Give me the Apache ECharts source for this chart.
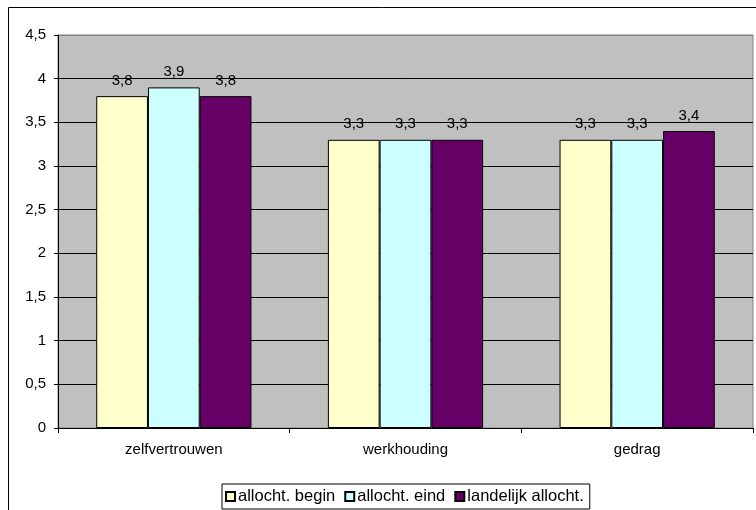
<!DOCTYPE html>
<html><head><meta charset="utf-8">
<script src="https://cdn.jsdelivr.net/npm/echarts@6/dist/echarts.min.js"></script>
<style>html,body{margin:0;padding:0;background:#fff}#c{width:756px;height:510px}</style>
</head><body><div id="c"></div>
<script>
const categories = ['zelfvertrouwen', 'werkhouding', 'gedrag'];
const allochtBegin = [3.8, 3.3, 3.3];
const allochtEind = [3.9, 3.3, 3.3];
const landelijkAllocht = [3.8, 3.3, 3.4];
const seriesNames = ['allocht. begin', 'allocht. eind', 'landelijk allocht.'];
const colors = ['#FFFFCC', '#CCFFFF', '#660066'];
const font = 'Arial, "Liberation Sans", sans-serif';
const comma = v => String(v).replace('.', ',');

const chart = echarts.init(document.getElementById('c'), null, {renderer: 'canvas'});
const mk = (name, data, color) => ({
  name, type: 'bar', data, barGap: '0%', barCategoryGap: '33%',
  itemStyle: {color, borderColor: '#000', borderWidth: 1},
  label: {show: true, position: 'top', distance: 8, color: '#000', fontSize: 15, fontFamily: font,
    formatter: p => comma(p.value)}
});
const gridColors = ['#000','#000','#000','#000','#000','#000','#000','#000','#000','#808080'];
chart.setOption({
  animation: false,
  textStyle: {fontFamily: font},
  graphic: [{type: 'rect', shape: {x: 8.5, y: 7.5, width: 800, height: 600},
    style: {fill: 'none', stroke: '#000', lineWidth: 1}, z: -1}],
  grid: {left: 58, right: 3, top: 35, bottom: 82, show: true, backgroundColor: '#C0C0C0', borderColor: '#808080', borderWidth: 1},
  legend: {
    data: seriesNames, left: 222, bottom: 1, orient: 'horizontal',
    borderColor: '#000', borderWidth: 1, padding: [4, 6, 4, 3], itemGap: 9,
    itemWidth: 9, itemHeight: 9, icon: 'rect',
    textStyle: {fontSize: 16.5, color: '#000', fontFamily: font, padding: [0, 0, 0, -2]}
  },
  xAxis: {
    type: 'category', data: categories,
    axisLine: {lineStyle: {color: '#000', width: 1}},
    axisTick: {show: true, length: 5, lineStyle: {color: '#000'}},
    axisLabel: {color: '#000', fontSize: 15, margin: 14, fontFamily: font}
  },
  yAxis: {
    type: 'value', min: 0, max: 4.5, interval: 0.5,
    axisLine: {show: true, lineStyle: {color: '#000', width: 1}},
    axisTick: {show: true, length: 4, lineStyle: {color: '#000'}},
    axisLabel: {color: '#000', fontSize: 15, margin: 12, fontFamily: font, formatter: v => comma(v)},
    splitLine: {show: true, lineStyle: {color: gridColors, width: 1}}
  },
  series: [
    mk(seriesNames[0], allochtBegin, colors[0]),
    mk(seriesNames[1], allochtEind, colors[1]),
    mk(seriesNames[2], landelijkAllocht, colors[2])
  ]
});
</script></body></html>
